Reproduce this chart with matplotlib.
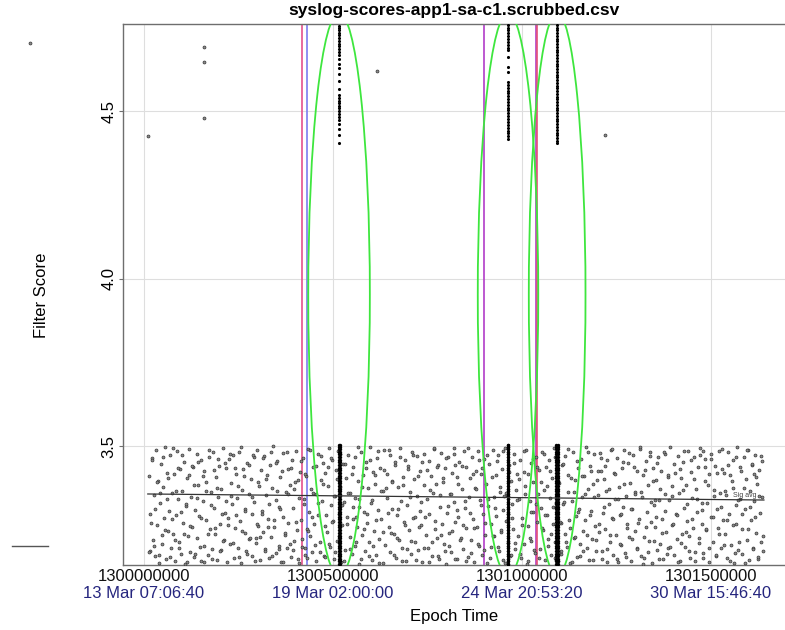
import numpy as np
import matplotlib
matplotlib.use("Agg")
import matplotlib.pyplot as plt
from matplotlib.patches import Ellipse
from datetime import datetime, timezone

plt.rcParams['font.family'] = ['Liberation Sans', 'DejaVu Sans']

T0 = 1300000000  # epoch base, background times are kiloseconds after it

# background syslog scores, first pass (time offset in ks, score)
bg_ks = [
    12, 15, 17, 21, 23, 26, 28, 32, 35, 36, 40, 43, 44, 48, 50, 53, 55, 58, 61, 63,
    66, 68, 72, 74, 77, 79, 82, 85, 87, 90, 93, 95, 98, 100, 104, 106, 108, 112, 114, 117,
    120, 122, 125, 128, 130, 133, 135, 139, 141, 144, 146, 150, 152, 155, 158, 160, 163, 165, 169, 171,
    174, 176, 179, 182, 184, 187, 190, 192, 195, 198, 200, 203, 205, 209, 211, 214, 216, 220, 222, 225,
    228, 230, 233, 236, 238, 241, 244, 246, 249, 251, 255, 257, 260, 262, 266, 268, 271, 273, 277, 279,
    282, 285, 287, 290, 292, 296, 298, 301, 303, 307, 309, 312, 314, 318, 320, 323, 326, 328, 331, 333,
    337, 339, 342, 344, 348, 350, 353, 356, 358, 361, 363, 367, 369, 372, 375, 377, 380, 382, 386, 388,
    391, 393, 397, 399, 402, 405, 407, 410, 413, 415, 418, 420, 424, 426, 429, 431, 435, 437, 440, 443,
    445, 448, 450, 454, 456, 459, 461, 465, 467, 470, 473, 475, 478, 480, 484, 486, 489, 492, 494, 497,
    499, 503, 505, 508, 510, 514, 516, 519, 522, 524, 527, 529, 533, 535, 538, 540, 544, 546, 549, 552,
    554, 557, 559, 563, 565, 568, 570, 574, 576, 579, 582, 584, 587, 589, 593, 595, 598, 601, 603, 606,
    608, 612, 614, 617, 619, 623, 625, 628, 631, 633, 636, 638, 642, 644, 647, 650, 652, 655, 657, 661,
    663, 666, 668, 672, 674, 677, 680, 682, 685, 687, 691, 693, 696, 699, 701, 704, 706, 710, 712, 715,
    717, 721, 723, 726, 729, 731, 734, 736, 740, 742, 745, 748, 750, 753, 755, 759, 761, 764, 766, 770,
    772, 775, 778, 780, 783, 785, 789, 791, 794, 797, 799, 802, 804, 808, 810, 813, 815, 819, 821, 824,
    827, 829, 832, 834, 838, 840, 843, 846, 848, 851, 853, 857, 859, 862, 864, 868, 870, 873, 876, 878,
    881, 883, 887, 889, 892, 895, 897, 900, 902, 906, 908, 911, 913, 917, 919, 922, 925, 927, 930, 932,
    936, 938, 941, 944, 946, 949, 951, 955, 957, 960, 962, 966, 968, 971, 974, 976, 979, 981, 985, 987,
    990, 993, 995, 998, 1000, 1004, 1006, 1009, 1011, 1015, 1017, 1020, 1023, 1025, 1028, 1030, 1034, 1036, 1039, 1042,
    1044, 1047, 1049, 1053, 1055, 1058, 1060, 1064, 1066, 1069, 1072, 1074, 1077, 1079, 1083, 1085, 1088, 1091, 1093, 1096,
    1098, 1102, 1104, 1107, 1109, 1113, 1115, 1118, 1121, 1123, 1126, 1128, 1132, 1134, 1137, 1140, 1142, 1145, 1147, 1151,
    1153, 1156, 1158, 1162, 1164, 1167, 1170, 1172, 1175, 1177, 1181, 1183, 1186, 1189, 1191, 1194, 1196, 1200, 1202, 1205,
    1207, 1211, 1213, 1216, 1219, 1221, 1224, 1226, 1230, 1232, 1235, 1238, 1240, 1243, 1245, 1249, 1251, 1254, 1256, 1260,
    1262, 1265, 1268, 1270, 1273, 1275, 1279, 1281, 1284, 1287, 1289, 1292, 1294, 1298, 1300, 1303, 1305, 1309, 1311, 1314,
    1317, 1319, 1322, 1324, 1328, 1330, 1333, 1336, 1338, 1341, 1343, 1347, 1349, 1352, 1354, 1358, 1360, 1363, 1366, 1368,
    1371, 1373, 1377, 1379, 1382, 1385, 1387, 1390, 1392, 1396, 1398, 1401, 1403, 1407, 1409, 1412, 1415, 1417, 1420, 1422,
    1426, 1428, 1431, 1434, 1436, 1439, 1441, 1445, 1447, 1450, 1452, 1456, 1458, 1461, 1464, 1466, 1469, 1471, 1475, 1477,
    1480, 1483, 1485, 1488, 1490, 1494, 1496, 1499, 1501, 1505, 1507, 1510, 1513, 1515, 1518, 1520, 1524, 1526, 1529, 1532,
    1535, 1537, 1540, 1542, 1546, 1548, 1551, 1553, 1557, 1559, 1562, 1565, 1567, 1570, 1572, 1576, 1578, 1581, 1583, 1587,
    1589, 1592, 1595, 1597, 1600, 1602, 1606, 1608, 1611, 1614, 1616, 1619, 1621, 1625, 1627, 1630, 1632, 1634, 1636, 1638,
]
bg_score = [
    3.412, 3.187, 3.298, 3.463, 3.221, 3.354, 3.171, 3.488, 3.265, 3.397, 3.152, 3.331, 3.446, 3.209, 3.378, 3.284, 3.496, 3.163, 3.421, 3.247,
    3.305, 3.472, 3.196, 3.359, 3.238, 3.417, 3.156, 3.293, 3.485, 3.341, 3.214, 3.432, 3.177, 3.366, 3.271, 3.453, 3.149, 3.322, 3.404, 3.232,
    3.491, 3.183, 3.347, 3.259, 3.438, 3.168, 3.309, 3.476, 3.226, 3.385, 3.291, 3.158, 3.457, 3.337, 3.203, 3.426, 3.278, 3.392, 3.174, 3.468,
    3.251, 3.364, 3.193, 3.481, 3.316, 3.237, 3.409, 3.161, 3.348, 3.442, 3.267, 3.189, 3.373, 3.495, 3.219, 3.301, 3.436, 3.154, 3.286, 3.461,
    3.208, 3.389, 3.327, 3.474, 3.166, 3.255, 3.418, 3.344, 3.197, 3.483, 3.276, 3.151, 3.369, 3.431, 3.241, 3.312, 3.186, 3.449, 3.358, 3.224,
    3.402, 3.173, 3.296, 3.467, 3.334, 3.212, 3.489, 3.262, 3.381, 3.159, 3.428, 3.307, 3.245, 3.471, 3.192, 3.353, 3.415, 3.281, 3.165, 3.444,
    3.228, 3.376, 3.499, 3.258, 3.181, 3.339, 3.455, 3.203, 3.318, 3.407, 3.153, 3.289, 3.478, 3.236, 3.362, 3.195, 3.433, 3.271, 3.384, 3.169,
    3.457, 3.314, 3.217, 3.393, 3.486, 3.248, 3.162, 3.345, 3.424, 3.279, 3.199, 3.465, 3.328, 3.176, 3.411, 3.253, 3.492, 3.304, 3.231, 3.371,
    3.185, 3.439, 3.267, 3.356, 3.157, 3.477, 3.294, 3.213, 3.398, 3.336, 3.448, 3.171, 3.262, 3.419, 3.244, 3.381, 3.493, 3.198, 3.325, 3.459,
    3.276, 3.164, 3.351, 3.429, 3.218, 3.484, 3.297, 3.379, 3.155, 3.263, 3.446, 3.332, 3.191, 3.406, 3.287, 3.472, 3.229, 3.361, 3.178, 3.437,
    3.318, 3.201, 3.467, 3.257, 3.395, 3.148, 3.342, 3.481, 3.234, 3.413, 3.302, 3.186, 3.451, 3.269, 3.374, 3.213, 3.497, 3.329, 3.161, 3.423,
    3.246, 3.388, 3.174, 3.463, 3.309, 3.224, 3.436, 3.281, 3.152, 3.367, 3.487, 3.206, 3.346, 3.418, 3.259, 3.183, 3.474, 3.311, 3.397, 3.239,
    3.443, 3.167, 3.293, 3.378, 3.221, 3.494, 3.336, 3.196, 3.409, 3.272, 3.458, 3.158, 3.323, 3.441, 3.248, 3.364, 3.179, 3.482, 3.286, 3.401,
    3.215, 3.352, 3.469, 3.189, 3.306, 3.425, 3.264, 3.154, 3.383, 3.477, 3.236, 3.341, 3.197, 3.456, 3.298, 3.412, 3.172, 3.359, 3.491, 3.253,
    3.387, 3.226, 3.445, 3.163, 3.317, 3.479, 3.268, 3.392, 3.209, 3.434, 3.149, 3.301, 3.466, 3.242, 3.357, 3.184, 3.421, 3.333, 3.495, 3.274,
    3.162, 3.408, 3.289, 3.451, 3.227, 3.371, 3.192, 3.486, 3.314, 3.254, 3.439, 3.168, 3.347, 3.404, 3.219, 3.468, 3.283, 3.153, 3.376, 3.427,
    3.258, 3.484, 3.202, 3.339, 3.416, 3.176, 3.297, 3.462, 3.235, 3.386, 3.151, 3.321, 3.447, 3.266, 3.199, 3.489, 3.349, 3.231, 3.414, 3.292,
    3.472, 3.187, 3.363, 3.243, 3.431, 3.159, 3.308, 3.495, 3.277, 3.354, 3.211, 3.443, 3.171, 3.396, 3.327, 3.252, 3.476, 3.194, 3.369, 3.418,
    3.233, 3.343, 3.457, 3.166, 3.284, 3.422, 3.207, 3.381, 3.488, 3.261, 3.156, 3.335, 3.449, 3.218, 3.394, 3.303, 3.181, 3.467, 3.274, 3.358,
    3.429, 3.192, 3.315, 3.483, 3.249, 3.368, 3.161, 3.437, 3.295, 3.223, 3.459, 3.344, 3.175, 3.406, 3.268, 3.493, 3.213, 3.329, 3.452, 3.157,
    3.389, 3.271, 3.178, 3.444, 3.326, 3.239, 3.471, 3.198, 3.362, 3.415, 3.256, 3.152, 3.337, 3.483, 3.226, 3.399, 3.291, 3.169, 3.434, 3.312,
    3.208, 3.462, 3.349, 3.186, 3.411, 3.278, 3.497, 3.234, 3.372, 3.159, 3.441, 3.306, 3.224, 3.386, 3.475, 3.262, 3.188, 3.353, 3.426, 3.245,
    3.479, 3.163, 3.299, 3.403, 3.251, 3.366, 3.194, 3.458, 3.328, 3.215, 3.489, 3.284, 3.174, 3.419, 3.341, 3.236, 3.465, 3.154, 3.377, 3.293,
    3.204, 3.435, 3.319, 3.487, 3.182, 3.351, 3.266, 3.449, 3.228, 3.391, 3.156, 3.313, 3.473, 3.247, 3.364, 3.196, 3.425, 3.282, 3.492, 3.171,
    3.347, 3.413, 3.229, 3.167, 3.456, 3.303, 3.385, 3.218, 3.481, 3.272, 3.151, 3.436, 3.324, 3.257, 3.398, 3.189, 3.468, 3.339, 3.207, 3.427,
    3.283, 3.164, 3.475, 3.356, 3.243, 3.409, 3.197, 3.338, 3.498, 3.265, 3.381, 3.176, 3.446, 3.297, 3.222, 3.471, 3.359, 3.158, 3.404, 3.238,
    3.451, 3.316, 3.199, 3.384, 3.276, 3.485, 3.233, 3.165, 3.422, 3.345, 3.254, 3.467, 3.185, 3.373, 3.302, 3.439, 3.211, 3.494, 3.331, 3.268,
    3.182, 3.397, 3.461, 3.249, 3.329, 3.153, 3.418, 3.287, 3.476, 3.214, 3.368, 3.442, 3.173, 3.311, 3.255, 3.486, 3.361, 3.195, 3.432, 3.279,
    3.421, 3.238, 3.354, 3.167, 3.482, 3.297, 3.413, 3.206, 3.375, 3.459, 3.151, 3.324, 3.266, 3.497, 3.189, 3.343, 3.437, 3.252, 3.178, 3.466,
    3.313, 3.402, 3.221, 3.488, 3.159, 3.367, 3.279, 3.445, 3.197, 3.336, 3.473, 3.242, 3.386, 3.163, 3.428, 3.301, 3.214, 3.455, 3.348, 3.186,
]

# background syslog scores, second pass (read right to left)
bg2_ks = [
    1637, 1633, 1628, 1625, 1620, 1617, 1612, 1608, 1604, 1599, 1596, 1591, 1588, 1583, 1579, 1575, 1571, 1566, 1563, 1558,
    1555, 1550, 1546, 1542, 1537, 1534, 1529, 1526, 1521, 1517, 1513, 1508, 1505, 1500, 1496, 1492, 1488, 1483, 1480, 1475,
    1471, 1467, 1463, 1458, 1455, 1450, 1446, 1442, 1437, 1434, 1429, 1425, 1421, 1417, 1412, 1409, 1404, 1400, 1396, 1392,
    1387, 1384, 1379, 1375, 1371, 1366, 1363, 1358, 1354, 1350, 1346, 1341, 1338, 1333, 1329, 1325, 1321, 1316, 1313, 1308,
    1304, 1300, 1296, 1291, 1288, 1283, 1279, 1275, 1270, 1267, 1262, 1258, 1254, 1250, 1245, 1242, 1237, 1233, 1229, 1225,
    1220, 1217, 1212, 1208, 1204, 1199, 1196, 1191, 1187, 1183, 1179, 1174, 1171, 1166, 1162, 1158, 1154, 1149, 1146, 1141,
    1137, 1133, 1129, 1124, 1121, 1116, 1112, 1108, 1103, 1100, 1095, 1091, 1087, 1083, 1078, 1075, 1070, 1066, 1062, 1058,
    1053, 1050, 1045, 1041, 1037, 1032, 1029, 1024, 1020, 1016, 1012, 1007, 1004, 999, 995, 991, 987, 982, 979, 974,
    970, 966, 962, 957, 954, 949, 945, 941, 936, 933, 928, 924, 920, 916, 911, 908, 903, 899, 895, 891,
    886, 883, 878, 874, 870, 865, 862, 857, 853, 849, 845, 840, 837, 832, 828, 824, 820, 815, 812, 807,
    803, 799, 795, 790, 787, 782, 778, 774, 769, 766, 761, 757, 753, 749, 744, 741, 736, 732, 728, 724,
    719, 716, 711, 707, 703, 698, 695, 690, 686, 682, 678, 673, 670, 665, 661, 657, 653, 648, 645, 640,
    636, 632, 628, 623, 620, 615, 611, 607, 602, 599, 594, 590, 586, 582, 577, 574, 569, 565, 561, 557,
    552, 549, 544, 540, 536, 531, 528, 523, 519, 515, 511, 506, 503, 498, 494, 490, 486, 481, 478, 473,
    469, 465, 461, 456, 453, 448, 444, 440, 435, 432, 427, 423, 419, 415, 410, 407, 402, 398, 394, 390,
    385, 382, 377, 373, 369, 364, 361, 356, 352, 348, 344, 339, 336, 331, 327, 323, 319, 314, 311, 306,
    302, 298, 294, 289, 286, 281, 277, 273, 268, 265, 260, 256, 252, 248, 243, 240, 235, 231, 227, 223,
    218, 215, 210, 206, 202, 197, 194, 189, 185, 181, 177, 172, 169, 164, 160, 156, 152, 147, 144, 139,
    135, 131, 127, 122, 119, 114, 110, 106, 101, 98, 93, 89, 85, 81, 76, 73, 68, 64, 60, 56,
    51, 48, 43, 39, 35, 30, 27, 22, 18, 14, 1615, 1352, 1088, 824, 561, 297, 1480, 953, 426, 1210,
]
bg2_score = [
    3.233, 3.471, 3.352, 3.169, 3.408, 3.287, 3.194, 3.446, 3.318, 3.252, 3.489, 3.151, 3.376, 3.298, 3.427, 3.213, 3.339, 3.466, 3.181, 3.264,
    3.395, 3.157, 3.443, 3.279, 3.365, 3.206, 3.492, 3.318, 3.238, 3.421, 3.174, 3.351, 3.287, 3.462, 3.196, 3.384, 3.251, 3.437, 3.166, 3.309,
    3.474, 3.226, 3.343, 3.158, 3.401, 3.282, 3.459, 3.188, 3.327, 3.243, 3.486, 3.369, 3.211, 3.433, 3.155, 3.294, 3.419, 3.268, 3.352, 3.199,
    3.415, 3.178, 3.306, 3.483, 3.241, 3.372, 3.163, 3.448, 3.289, 3.217, 3.396, 3.334, 3.469, 3.183, 3.259, 3.428, 3.149, 3.363, 3.497, 3.271,
    3.192, 3.356, 3.438, 3.223, 3.311, 3.479, 3.254, 3.168, 3.388, 3.452, 3.296, 3.207, 3.341, 3.162, 3.418, 3.281, 3.491, 3.236, 3.373, 3.154,
    3.441, 3.317, 3.186, 3.465, 3.266, 3.398, 3.221, 3.349, 3.159, 3.426, 3.293, 3.481, 3.197, 3.358, 3.247, 3.412, 3.172, 3.304, 3.455, 3.229,
    3.364, 3.153, 3.406, 3.279, 3.491, 3.214, 3.333, 3.447, 3.186, 3.272, 3.395, 3.161, 3.468, 3.318, 3.239, 3.427, 3.201, 3.381, 3.293, 3.476,
    3.256, 3.392, 3.167, 3.439, 3.328, 3.191, 3.462, 3.303, 3.226, 3.417, 3.149, 3.356, 3.484, 3.263, 3.178, 3.403, 3.338, 3.212, 3.449, 3.285,
    3.176, 3.423, 3.297, 3.361, 3.152, 3.486, 3.248, 3.379, 3.198, 3.454, 3.314, 3.232, 3.407, 3.165, 3.343, 3.473, 3.271, 3.189, 3.434, 3.325,
    3.458, 3.209, 3.372, 3.254, 3.416, 3.181, 3.299, 3.495, 3.158, 3.337, 3.264, 3.441, 3.219, 3.386, 3.309, 3.163, 3.477, 3.246, 3.357, 3.203,
    3.322, 3.464, 3.188, 3.405, 3.235, 3.353, 3.171, 3.437, 3.276, 3.494, 3.213, 3.368, 3.154, 3.429, 3.287, 3.196, 3.451, 3.334, 3.258, 3.412,
    3.161, 3.289, 3.473, 3.217, 3.347, 3.432, 3.194, 3.263, 3.384, 3.156, 3.468, 3.311, 3.227, 3.453, 3.176, 3.392, 3.241, 3.487, 3.301, 3.374,
    3.429, 3.243, 3.366, 3.152, 3.485, 3.279, 3.413, 3.201, 3.339, 3.458, 3.172, 3.297, 3.436, 3.252, 3.379, 3.164, 3.317, 3.496, 3.215, 3.346,
    3.283, 3.418, 3.192, 3.359, 3.267, 3.447, 3.158, 3.324, 3.476, 3.231, 3.401, 3.184, 3.352, 3.272, 3.463, 3.209, 3.439, 3.295, 3.168, 3.386,
    3.471, 3.184, 3.331, 3.442, 3.204, 3.361, 3.289, 3.489, 3.246, 3.166, 3.417, 3.343, 3.223, 3.455, 3.151, 3.398, 3.273, 3.372, 3.191, 3.436,
    3.208, 3.357, 3.481, 3.241, 3.153, 3.426, 3.312, 3.193, 3.366, 3.449, 3.278, 3.172, 3.483, 3.326, 3.259, 3.402, 3.186, 3.465, 3.296, 3.229,
    3.394, 3.266, 3.157, 3.473, 3.349, 3.227, 3.443, 3.178, 3.307, 3.411, 3.247, 3.498, 3.168, 3.381, 3.293, 3.434, 3.211, 3.352, 3.476, 3.263,
    3.336, 3.449, 3.217, 3.298, 3.187, 3.461, 3.374, 3.256, 3.428, 3.164, 3.323, 3.489, 3.239, 3.365, 3.153, 3.412, 3.284, 3.198, 3.453, 3.344,
    3.179, 3.385, 3.442, 3.262, 3.413, 3.155, 3.328, 3.237, 3.474, 3.302, 3.196, 3.435, 3.367, 3.221, 3.493, 3.281, 3.169, 3.406, 3.341, 3.249,
    3.467, 3.234, 3.359, 3.176, 3.392, 3.313, 3.202, 3.457, 3.271, 3.183, 3.418, 3.338, 3.166, 3.445, 3.288, 3.227, 3.484, 3.352, 3.195, 3.425,
]

# scattered high scores
hi_t = [1299698000, 1300010600, 1300158700, 1300158700, 1300158700, 1300616400, 1301219600]
hi_score = [4.703, 4.425, 4.690, 4.648, 4.480, 4.621, 4.430]

# burst columns: epoch times of the three bursts
burst_t = [1300516000, 1300963000, 1301093000]
burst_low = [3.148, 3.156, 3.163, 3.171, 3.178, 3.186, 3.195, 3.202, 3.210, 3.217, 3.226, 3.233,
             3.241, 3.249, 3.257, 3.264, 3.272, 3.281, 3.288, 3.296, 3.303, 3.311, 3.319, 3.327,
             3.334, 3.342, 3.351, 3.358, 3.366, 3.373, 3.381, 3.390, 3.397, 3.405, 3.412, 3.420,
             3.428, 3.436, 3.444, 3.451, 3.459, 3.467, 3.475, 3.482, 3.490, 3.498, 3.504]
burst1_high = [4.755, 4.748, 4.741, 4.733, 4.726, 4.718, 4.709, 4.701, 4.693, 4.684, 4.676, 4.667,
               4.655, 4.641, 4.628, 4.611, 4.589, 4.566, 4.548, 4.539, 4.531, 4.523, 4.515, 4.508,
               4.499, 4.491, 4.483, 4.474, 4.461, 4.447, 4.428, 4.405]
burst2_high = [4.757, 4.749, 4.741, 4.732, 4.724, 4.716, 4.707, 4.698, 4.689, 4.681, 4.661, 4.631,
               4.616, 4.586, 4.578, 4.569, 4.561, 4.553, 4.544, 4.536, 4.527, 4.519, 4.510, 4.502,
               4.493, 4.485, 4.476, 4.468, 4.459, 4.451, 4.442, 4.434, 4.425, 4.416]
burst3_high = [4.757, 4.749, 4.741, 4.733, 4.725, 4.716, 4.708, 4.700, 4.692, 4.683, 4.675, 4.667,
               4.659, 4.650, 4.642, 4.634, 4.626, 4.617, 4.609, 4.601, 4.593, 4.584, 4.576, 4.568,
               4.560, 4.551, 4.543, 4.535, 4.527, 4.518, 4.510, 4.502, 4.494, 4.485, 4.477, 4.469,
               4.461, 4.452, 4.444, 4.436, 4.428, 4.419, 4.411, 4.405]
burst_high = [burst1_high, burst2_high, burst3_high]
burst_spread = [1200, 1000, 2200]   # half-width of each column in seconds
ring_width = [163000, 160000, 150000]

# event markers
event_t = [1300418000, 1300431000, 1300899000, 1301036000, 1301041000]
event_color = ['#e4508c', '#7c7cf0', '#b23cc8', '#b040c8', '#e45078']

# trend line
fit_t = [1300010000, 1301640000]
fit_score = [3.357, 3.339]

# legend stub left of the plot
key_t = [1299650000, 1299746000]
key_score = [3.2015, 3.2015]

xticks = [1300000000, 1300500000, 1301000000, 1301500000]
yticks = [3.5, 4.0, 4.5]

fig = plt.figure(figsize=(7.85, 6.3), dpi=100)
ax = fig.add_axes([123 / 785, 65 / 630, 662 / 785, 541 / 630])
ax.set_xlim(1299944444, 1301695767)
ax.set_ylim(3.145, 4.76)

ax.set_xticks(xticks)
ax.set_xticklabels([])
ax.set_yticks(yticks)
ax.set_yticklabels([f'{v:.1f}' for v in yticks])
ax.grid(True, color='#dedede', lw=0.8)
ax.set_axisbelow(True)
ax.tick_params(axis='x', length=0)
ax.tick_params(axis='y', length=3, pad=1.5, labelsize=12, color='#707070')
for lab in ax.get_yticklabels():
    lab.set_rotation(90)
    lab.set_va('center')
ax.spines['right'].set_visible(False)
for s in ['left', 'top', 'bottom']:
    ax.spines[s].set_color('#6e6e6e')
    ax.spines[s].set_linewidth(1.0)

for t, c in zip(event_t, event_color):
    ax.axvline(t, color=c, lw=1.2, zorder=2)

dot_style = dict(s=4.5, facecolor='#8c8c8c', edgecolor='#353535', linewidths=0.5, zorder=3)
ax.scatter(T0 + np.array(bg_ks) * 1000, bg_score, **dot_style)
ax.scatter(T0 + np.array(bg2_ks) * 1000, bg2_score, **dot_style)

for t, hi, dx in zip(burst_t, burst_high, burst_spread):
    for off in (-dx, dx):
        ax.scatter([t + off] * len(burst_low), burst_low, s=6, c='black', lw=0, zorder=4)
    ax.scatter([t] * len(hi), hi, s=5, c='black', lw=0, zorder=4)

ax.scatter(hi_t, hi_score, clip_on=False, **dot_style)

ax.plot(fit_t, fit_score, color='#333333', lw=0.9, zorder=5)
ax.text(1301590000, 3.343, 'Sig avg', fontsize=5, color='#444444',
        ha='center', va='bottom', zorder=5)
ax.plot(key_t, key_score, color='#555555', lw=1.0, clip_on=False)

for t, w in zip(burst_t, ring_width):
    ax.add_patch(Ellipse((t, 3.952), w, 1.681, fill=False, ec='#3ee63e', lw=1.3, zorder=6))

# two-row x labels: raw epoch and UTC date
for t in xticks:
    ax.annotate(str(t), xy=(t, 0), xycoords=('data', 'axes fraction'),
                xytext=(0, -8.6), textcoords='offset points',
                ha='center', va='center', fontsize=12, color='#111111')
    stamp = datetime.fromtimestamp(t, timezone.utc).strftime('%d %b %H:%M:%S')
    ax.annotate(stamp, xy=(t, 0), xycoords=('data', 'axes fraction'),
                xytext=(0, -20.2), textcoords='offset points',
                ha='center', va='center', fontsize=12, color='#25257e')

fig.text(454 / 785, 1 - 10 / 630, 'syslog-scores-app1-sa-c1.scrubbed.csv',
         ha='center', va='center', fontsize=12.5, fontweight='bold')
fig.text(454 / 785, 1 - 617 / 630, 'Epoch Time', ha='center', va='center', fontsize=12)
fig.text(42 / 785, 1 - 295 / 630, 'Filter Score', ha='center', va='center',
         fontsize=12, rotation=90)

fig.savefig('out.png', dpi=100, facecolor='white')
